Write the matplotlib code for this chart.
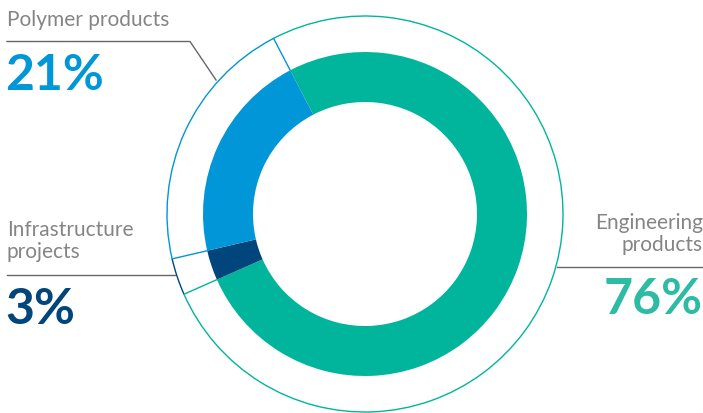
import numpy as np
import matplotlib
matplotlib.use("Agg")
import matplotlib.pyplot as plt
from matplotlib.patches import Arc

# data
labels = ["Engineering products", "Infrastructure projects", "Polymer products"]
shares = [76, 3, 21]
colors = ["#00b59c", "#00457c", "#0096d8"]
text_colors = ["#2dbba4", "#00457c", "#0096d8"]
# colour of the divider at the end of each wedge (clockwise)
divider_colors = ["#00b59c", "#0096d8", "#0096d8"]

W, H = 703, 413
cx, cy = 365, H - 214
r_in, r_out, r_ring = 112, 162, 198

fig = plt.figure(figsize=(W / 100, H / 100), dpi=100)
ax = fig.add_axes([0, 0, 1, 1])

wedges, _ = ax.pie(shares, colors=colors, startangle=117.5, counterclock=False,
                   center=(cx, cy), radius=r_out,
                   wedgeprops=dict(width=r_out - r_in, linewidth=0))

# thin outer ring, coloured per segment, plus radial dividers
for w, c in zip(wedges, colors):
    ax.add_patch(Arc((cx, cy), 2 * r_ring, 2 * r_ring, theta1=w.theta1, theta2=w.theta2,
                     color=c, lw=1.0))
for w, c in zip(wedges, divider_colors):
    a = np.deg2rad(w.theta1)
    ax.plot([cx + r_out * np.cos(a), cx + r_ring * np.cos(a)],
            [cy + r_out * np.sin(a), cy + r_ring * np.sin(a)], color=c, lw=1.0)

# leader lines
grey = "#666666"
ax.plot([7, 190, 216], [H - 41.5, H - 41.5, H - 80], color=grey, lw=1.0)
ax.plot([7, 175], [H - 275, H - 275], color=grey, lw=1.0)
ax.plot([557, 703], [H - 267, H - 267], color=grey, lw=1.0)

lab_font = dict(family=["Lato", "DejaVu Sans"], color="#858585", fontsize=15)
num_font = dict(family=["Lato", "DejaVu Sans"], fontweight="bold", fontsize=36)

ax.text(7, H - 20, labels[2], ha="left", va="center", **lab_font)
ax.text(5, H - 75, f"{shares[2]}%", ha="left", va="center", color=text_colors[2], **num_font)

ax.text(7, H - 241, "Infrastructure\nprojects", ha="left", va="center",
        linespacing=1.15, **lab_font)
ax.text(5, H - 309, f"{shares[1]}%", ha="left", va="center", color=text_colors[1], **num_font)

ax.text(703, H - 234, "Engineering\nproducts", ha="right", va="center",
        linespacing=1.15, **lab_font)
ax.text(703, H - 300, f"{shares[0]}%", ha="right", va="center", color=text_colors[0], **num_font)

ax.set_xlim(0, W)
ax.set_ylim(0, H)
ax.set_aspect("equal")
ax.axis("off")

fig.savefig("out.png", dpi=100)
